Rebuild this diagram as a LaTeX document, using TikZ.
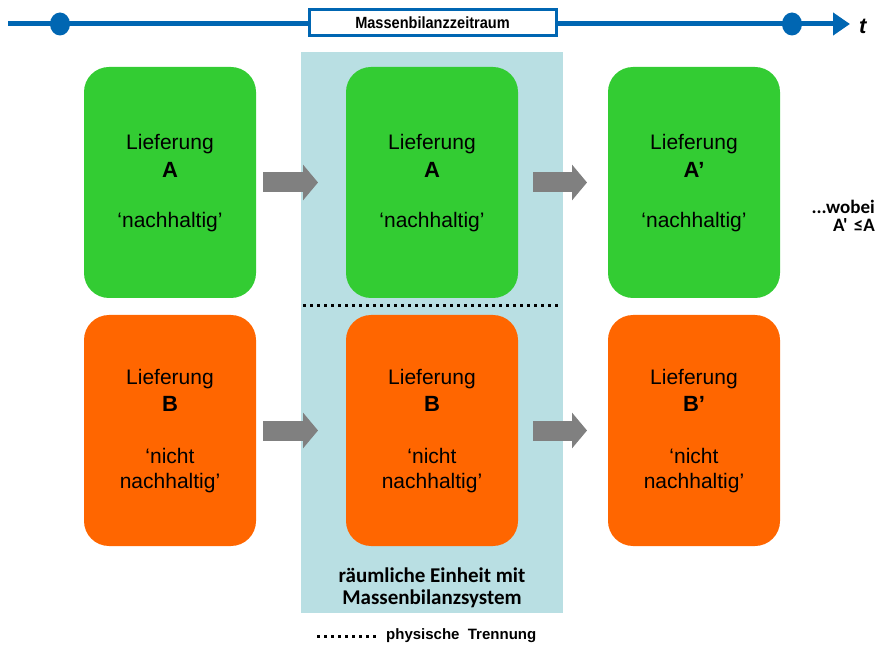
\documentclass[tikz,border=0pt]{standalone}
\usepackage{fontspec}
\setmainfont{Liberation Sans}
\newfontfamily\calib{Carlito}
\usetikzlibrary{arrows.meta}

\definecolor{tlblue}{RGB}{0,102,178}
\definecolor{zone}{RGB}{185,223,227}
\definecolor{sgreen}{RGB}{51,204,51}
\definecolor{sorange}{RGB}{255,102,0}
\definecolor{flowgray}{RGB}{128,128,128}

\tikzset{
  card/.style={rounded corners=25, minimum width=172, minimum height=231,
    inner sep=0, outer sep=0},
  greencard/.style={card, fill=sgreen},
  orangecard/.style={card, fill=sorange},
  txt/.style={anchor=base, inner sep=0, font=\fontsize{21}{21}\selectfont},
  bigletter/.style={anchor=base, inner sep=0, font=\fontsize{22}{22}\selectfont\bfseries},
  flow/.style={draw=flowgray, line width=20, -{Triangle[length=15, width=35]}},
  sep/.style={line width=3, dash pattern=on 3 off 4},
  notetxt/.style={anchor=base east, inner sep=0, font=\calib\fontsize{19}{19}\selectfont\bfseries},
}

\begin{document}
\begin{tikzpicture}[x=1pt, y=-1pt]
\useasboundingbox (0,0) rectangle (879,647);

% time axis
\coordinate (t0) at (8,24);
\coordinate (t1) at (850,24);
\draw[tlblue, line width=5, -{Triangle[length=17, width=22]}] (t0) -- (t1);
\fill[tlblue] (60,24) ellipse [x radius=10, y radius=11.5];
\fill[tlblue] (792,24) ellipse [x radius=10, y radius=11.5];
\node[draw=tlblue, line width=3, fill=white, minimum width=247, minimum height=26,
      inner sep=0, font=\fontsize{15}{15}\selectfont\bfseries] (mbz) at (432.5,23)
      {\scalebox{0.97}[1.08]{Massenbilanzzeitraum}};
\node[anchor=west, inner sep=0, font=\fontsize{22}{22}\selectfont\bfseries\itshape] (tlab) at (859,26) {t};

% spatial unit with mass balance system
\fill[zone] (301,52) rectangle (563,613);

% cards
\node[greencard] (a1) at (170,182.5) {};
\node[greencard] (a2) at (432,182.5) {};
\node[greencard] (a3) at (694,182.5) {};
\node[orangecard] (b1) at (170,430.5) {};
\node[orangecard] (b2) at (432,430.5) {};
\node[orangecard] (b3) at (694,430.5) {};

% card texts, top row (yshift is measured upwards)
\foreach \c/\l in {a1/A, a2/A, a3/{A\char"27}} {
  \node[txt] at ([yshift=32.5]\c.center) {Lieferung};
  \node[bigletter] at ([yshift=4.5]\c.center) {\l};
  \node[txt] at ([yshift=-45.5]\c.center) {‘nachhaltig’};
}
% card texts, bottom row
\foreach \c/\l in {b1/B, b2/B, b3/{B\char"27}} {
  \node[txt] at ([yshift=46]\c.center) {Lieferung};
  \node[bigletter] at ([yshift=19]\c.center) {\l};
  \node[txt] at ([yshift=-33]\c.center) {‘nicht};
  \node[txt] at ([yshift=-58]\c.center) {nachhaltig’};
}

% flows
\draw[flow] ([xshift=7]a1.east) -- ([xshift=-28]a2.west);
\draw[flow] ([xshift=15]a2.east) -- ([xshift=-21]a3.west);
\draw[flow] ([xshift=7]b1.east) -- ([xshift=-28]b2.west);
\draw[flow] ([xshift=15]b2.east) -- ([xshift=-21]b3.west);

% physical separation
\coordinate (s0) at (303,306);
\coordinate (s1) at (560,306);
\draw[sep] (s0) -- (s1);

% zone caption
\node[align=center, inner sep=0, font=\calib\fontsize{21}{22}\selectfont\bfseries] (cap) at (432,588)
  {räumliche Einheit mit\\Massenbilanzsystem};

% side note
\node[notetxt] (note1) at (875,214) {...wobei};
\node[notetxt] (note2) at (875,232) {A\char"27\,\,≤A};

% legend
\coordinate (l0) at (317,636);
\coordinate (l1) at (377,636);
\draw[sep] (l0) -- (l1);
\node[anchor=west, inner sep=0, font=\fontsize{15}{15}\selectfont\bfseries] (leg) at (386,636)
  {physische\ \ Trennung};
\end{tikzpicture}
\end{document}
